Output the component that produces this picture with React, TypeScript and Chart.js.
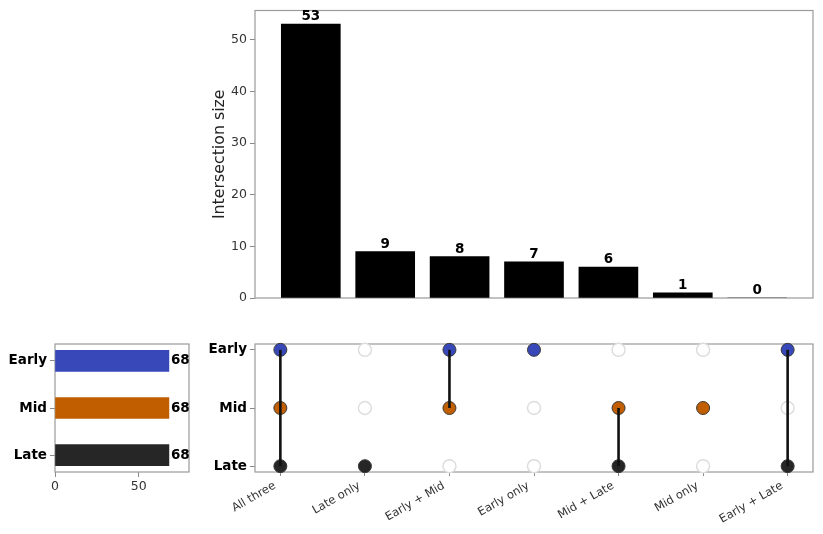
import React, { useEffect, useRef } from 'react';
import { Chart, registerables } from 'chart.js';

Chart.register(...registerables);

// ---------------- data ----------------
const SETS = ['Early', 'Mid', 'Late'];
const SET_SIZES = [68, 68, 68];
const SET_COLORS = ['#3848b8', '#c05e00', '#262626'];
const INTERSECTIONS = ['All three', 'Late only', 'Early + Mid', 'Early only', 'Mid + Late', 'Mid only', 'Early + Late'];
const INTERSECTION_SIZES = [53, 9, 8, 7, 6, 1, 0];
const MEMBERSHIP = [
  ['Early', 'Mid', 'Late'],
  ['Late'],
  ['Early', 'Mid'],
  ['Early'],
  ['Mid', 'Late'],
  ['Mid'],
  ['Early', 'Late'],
];
const SIZE_TICKS = [0, 10, 20, 30, 40, 50];
const SET_SIZE_TICKS = [0, 50];
const Y_TITLE = 'Intersection size';

// ---------------- layout ----------------
const W = 823;
const H = 534;
const FONT = "'DejaVu Sans', 'Liberation Sans', sans-serif";
const TICK_COLOR = '#8a8a8a';
const LABEL_COLOR = '#333';

Chart.defaults.font.family = FONT;

const rowY = (name: string) => SETS.length - 1 - SETS.indexOf(name);

const framePlugin = {
  id: 'frame',
  beforeDatasetsDraw(chart: any) {
    const { ctx, chartArea: a } = chart;
    ctx.save();
    ctx.strokeStyle = '#9a9a9a';
    ctx.lineWidth = 1.2;
    ctx.strokeRect(a.left, a.top, a.right - a.left, a.bottom - a.top);
    ctx.restore();
  },
};

const topLabelsPlugin = {
  id: 'topLabels',
  afterDatasetsDraw(chart: any) {
    const { ctx } = chart;
    const meta = chart.getDatasetMeta(0);
    ctx.save();
    ctx.font = `bold 13.5px ${FONT}`;
    ctx.fillStyle = '#000';
    ctx.textAlign = 'center';
    ctx.textBaseline = 'alphabetic';
    meta.data.forEach((bar: any, i: number) => {
      ctx.fillText(String(INTERSECTION_SIZES[i]), bar.x, bar.y - 4);
    });
    ctx.restore();
  },
};

const sideLabelsPlugin = {
  id: 'sideLabels',
  afterDatasetsDraw(chart: any) {
    const { ctx } = chart;
    const meta = chart.getDatasetMeta(0);
    ctx.save();
    ctx.font = `bold 13.5px ${FONT}`;
    ctx.fillStyle = '#000';
    ctx.textAlign = 'left';
    ctx.textBaseline = 'middle';
    meta.data.forEach((bar: any, i: number) => {
      ctx.fillText(String(SET_SIZES[i]), bar.x + 2, bar.y);
    });
    ctx.restore();
  },
};

// rotated category labels under the matrix, right edge aligned to each tick
const matrixLabelsPlugin = {
  id: 'matrixLabels',
  afterDraw(chart: any) {
    const { ctx } = chart;
    const xs = chart.scales.x;
    const y0 = chart.chartArea.bottom + 13;
    ctx.save();
    ctx.font = `11.5px ${FONT}`;
    ctx.fillStyle = LABEL_COLOR;
    ctx.textAlign = 'right';
    ctx.textBaseline = 'middle';
    INTERSECTIONS.forEach((t, i) => {
      const px = xs.getPixelForValue(i);
      ctx.save();
      ctx.translate(px - 5.5, y0);
      ctx.rotate(-Math.PI / 6);
      ctx.fillText(t, 0, 0);
      ctx.restore();
    });
    ctx.restore();
  },
};

const tickGrid = (len: number) => ({
  drawOnChartArea: false,
  drawTicks: true,
  offset: false,
  tickLength: len,
  color: TICK_COLOR,
  lineWidth: 1,
});

function topConfig(): any {
  return {
    type: 'bar',
    data: {
      datasets: [
        {
          data: INTERSECTION_SIZES.map((v, i) => ({ x: i, y: v })),
          backgroundColor: '#000',
          borderWidth: 0,
          barThickness: 59,
        },
      ],
    },
    options: {
      responsive: false,
      animation: false,
      layout: { padding: { left: 210, top: 10, right: W - 813, bottom: H - 298 } },
      plugins: { legend: { display: false }, tooltip: { enabled: false } },
      scales: {
        x: { type: 'linear', display: false, offset: false, min: -0.75, max: 6.75 },
        y: {
          type: 'linear',
          min: 0,
          max: 55.65,
          afterBuildTicks: (s: any) => {
            s.ticks = SIZE_TICKS.map((v) => ({ value: v }));
          },
          afterFit: (s: any) => {
            s.width = 255 - 210;
          },
          grid: tickGrid(5),
          border: { display: false },
          ticks: { font: { family: FONT, size: 12.5 }, color: LABEL_COLOR, padding: 3 },
          title: {
            display: true,
            text: Y_TITLE,
            font: { family: FONT, size: 15.8 },
            color: '#222',
            padding: 0,
          },
        },
      },
    },
    plugins: [framePlugin, topLabelsPlugin],
  };
}

function sideConfig(): any {
  return {
    type: 'bar',
    data: {
      datasets: [
        {
          data: SET_SIZES.map((v, i) => ({ x: v, y: SETS.length - 1 - i })),
          backgroundColor: SET_COLORS,
          borderWidth: 0,
          barThickness: 21,
        },
      ],
    },
    options: {
      responsive: false,
      animation: false,
      indexAxis: 'y',
      layout: { padding: { left: 0, top: 344, right: W - 189, bottom: 0 } },
      plugins: { legend: { display: false }, tooltip: { enabled: false } },
      scales: {
        x: {
          type: 'linear',
          min: 0,
          max: 80,
          afterBuildTicks: (s: any) => {
            s.ticks = SET_SIZE_TICKS.map((v) => ({ value: v }));
          },
          afterFit: (s: any) => {
            s.height = H - 472;
          },
          grid: tickGrid(5),
          border: { display: false },
          ticks: { font: { family: FONT, size: 12.5 }, color: LABEL_COLOR, padding: 2, maxRotation: 0 },
        },
        y: {
          type: 'linear',
          offset: false,
          min: -0.36,
          max: 2.36,
          afterBuildTicks: (s: any) => {
            s.ticks = SETS.map((_, i) => ({ value: i }));
          },
          afterFit: (s: any) => {
            s.width = 55;
          },
          grid: tickGrid(5),
          border: { display: false },
          ticks: {
            font: { family: FONT, size: 13.5, weight: 'bold' },
            color: '#000',
            padding: 3,
            callback: (v: number) => SETS[SETS.length - 1 - v],
          },
        },
      },
    },
    plugins: [framePlugin, sideLabelsPlugin],
  };
}

function matrixConfig(): any {
  const lines = MEMBERSHIP.map((m, i) => ({ m, i }))
    .filter(({ m }) => m.length > 1)
    .map(({ m, i }) => {
      const ys = m.map(rowY);
      return {
        type: 'scatter',
        showLine: true,
        data: [
          { x: i, y: Math.min(...ys) },
          { x: i, y: Math.max(...ys) },
        ],
        borderColor: '#111',
        borderWidth: 2.6,
        pointRadius: 0,
        clip: false,
      };
    });
  const dots = SETS.map((s, k) => ({
    type: 'scatter',
    data: INTERSECTIONS.map((_, i) => ({ x: i, y: rowY(s) })),
    pointRadius: 6.5,
    pointBackgroundColor: INTERSECTIONS.map((_, i) => (MEMBERSHIP[i].includes(s) ? SET_COLORS[k] : '#ffffff')),
    pointBorderColor: INTERSECTIONS.map((_, i) => (MEMBERSHIP[i].includes(s) ? '#3a3a3a' : '#dcdcdc')),
    pointBorderWidth: INTERSECTIONS.map((_, i) => (MEMBERSHIP[i].includes(s) ? 1 : 1.4)),
    clip: false,
  }));
  return {
    type: 'scatter',
    data: { datasets: [...lines, ...dots] },
    options: {
      responsive: false,
      animation: false,
      layout: { padding: { left: 0, top: 344, right: W - 813, bottom: 0 } },
      plugins: { legend: { display: false }, tooltip: { enabled: false } },
      scales: {
        x: {
          type: 'linear',
          min: -0.3,
          max: 6.3,
          afterBuildTicks: (s: any) => {
            s.ticks = INTERSECTIONS.map((_, i) => ({ value: i }));
          },
          afterFit: (s: any) => {
            s.height = H - 472;
          },
          grid: tickGrid(4),
          border: { display: false },
          ticks: { display: false },
        },
        y: {
          type: 'linear',
          min: -0.1,
          max: 2.1,
          afterBuildTicks: (s: any) => {
            s.ticks = SETS.map((_, i) => ({ value: i }));
          },
          afterFit: (s: any) => {
            s.width = 255;
          },
          grid: tickGrid(5),
          border: { display: false },
          ticks: {
            font: { family: FONT, size: 13.5, weight: 'bold' },
            color: '#000',
            padding: 3,
            callback: (v: number) => SETS[SETS.length - 1 - v],
          },
        },
      },
    },
    plugins: [framePlugin, matrixLabelsPlugin],
  };
}

export default function App() {
  const topRef = useRef<HTMLCanvasElement>(null);
  const sideRef = useRef<HTMLCanvasElement>(null);
  const matRef = useRef<HTMLCanvasElement>(null);

  useEffect(() => {
    document.body.style.margin = '0';
    const charts = [
      new Chart(topRef.current as HTMLCanvasElement, topConfig()),
      new Chart(sideRef.current as HTMLCanvasElement, sideConfig()),
      new Chart(matRef.current as HTMLCanvasElement, matrixConfig()),
    ];
    return () => charts.forEach((c) => c.destroy());
  }, []);

  const cs: React.CSSProperties = { position: 'absolute', left: 0, top: 0, width: W, height: H };
  return (
    <div style={{ position: 'relative', width: W, height: H, background: '#fff', overflow: 'hidden' }}>
      <canvas ref={topRef} width={W} height={H} style={cs} />
      <canvas ref={sideRef} width={W} height={H} style={cs} />
      <canvas ref={matRef} width={W} height={H} style={cs} />
    </div>
  );
}
